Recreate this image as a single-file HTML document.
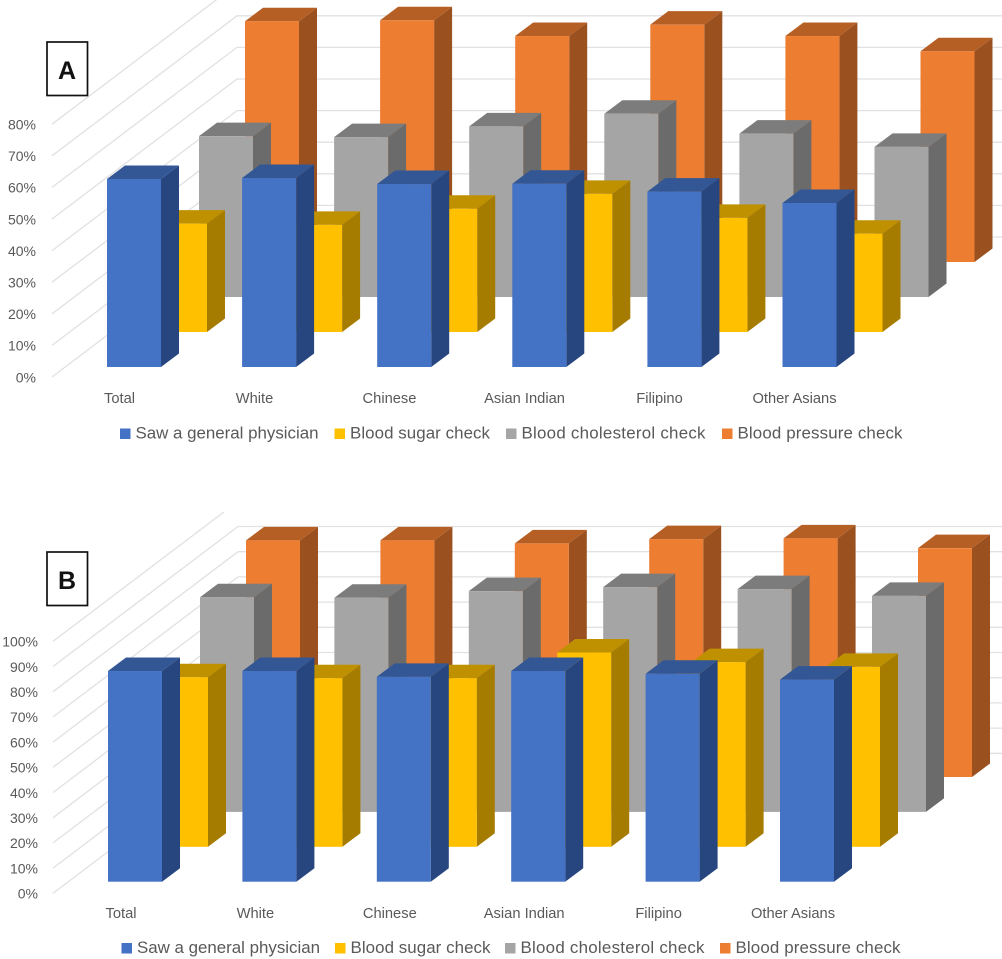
<!DOCTYPE html>
<html lang="en">
<head>
<meta charset="utf-8">
<title>Health checks by ethnic group, panels A and B</title>
<style>
  html, body { margin: 0; padding: 0; background: #ffffff; }
  #stage { display: block; width: 1002px; height: 959px; }
  text { font-family: "Liberation Sans", sans-serif; fill: #595959; }
</style>
</head>
<body>
<svg id="stage" xmlns="http://www.w3.org/2000/svg" width="1002" height="959" viewBox="0 0 1002 959">
  <rect x="0" y="0" width="1002" height="959" fill="#ffffff"/>
</svg>
<script>
// ---------- Data ----------
const categories = ["Total", "White", "Chinese", "Asian Indian", "Filipino", "Other Asians"];
const seriesNames = ["Saw a general physician", "Blood sugar check", "Blood cholesterol check", "Blood pressure check"];

const ticksA = ["0%", "10%", "20%", "30%", "40%", "50%", "60%", "70%", "80%"];
const physicianA = [59.5, 59.8, 57.9, 58.0, 55.5, 51.9];
const sugarA = [34.3, 33.9, 39.0, 43.7, 36.1, 31.1];
const cholesterolA = [50.9, 50.6, 54.0, 58.0, 51.7, 47.5];
const pressureA = [76.2, 76.5, 71.5, 75.1, 71.5, 66.7];

const ticksB = ["0%", "10%", "20%", "30%", "40%", "50%", "60%", "70%", "80%", "90%", "100%"];
const physicianB = [83.6, 83.6, 81.3, 83.6, 82.5, 80.2];
const sugarB = [67.3, 66.9, 66.9, 77.1, 73.3, 71.4];
const cholesterolB = [85.2, 85.0, 87.6, 89.2, 88.4, 85.7];
const pressureB = [93.9, 93.9, 92.7, 94.4, 94.7, 90.8];

// ---------- Styles ----------
const faceColors = [
  { front: "#4472C4", top: "#335694", side: "#274680" },
  { front: "#FFC000", top: "#BF9000", side: "#A67C00" },
  { front: "#A5A5A5", top: "#7C7C7C", side: "#6B6B6B" },
  { front: "#ED7D31", top: "#B65F25", side: "#9A511F" }
];
const legendTextWidths = [183, 140, 184, 165];
const NS = "http://www.w3.org/2000/svg";
const stage = document.getElementById("stage");

function make(tag, attrs, parent) {
  const el = document.createElementNS(NS, tag);
  for (const k in attrs) el.setAttribute(k, attrs[k]);
  parent.appendChild(el);
  return el;
}

// ---------- Panel renderer ----------
function drawPanel(cfg) {
  const panel = make("g", {}, stage);
  
  

  const clipId = "clip-" + cfg.id;
  const defs = make("defs", {}, panel);
  const clip = make("clipPath", { id: clipId }, defs);
  make("rect", { x: 0, y: cfg.clipTop, width: 1002, height: 500 }, clip);

  // value scale: percent to pixel height
  const h = v => v * cfg.pxPerPct;
  const frontY = v => cfg.axisY0 - h(v);
  const backY = v => cfg.axisY0 - cfg.wallRise - h(v);
  const pct = t => parseFloat(t);

  // walls
  const wall = make("g", { "clip-path": "url(#" + clipId + ")" }, panel);
  
  
  cfg.ticks.forEach(t => {
    const v = pct(t);
    const line = make("polyline", {
      points: cfg.wallX0 + "," + frontY(v) + " " + cfg.wallX1 + "," + backY(v) + " 1010," + backY(v),
      fill: "none", stroke: "#E1E1E1", "stroke-width": 1.3
    }, wall);
    
    
  });

  // tick labels
  cfg.ticks.forEach(t => {
    const label = make("text", {
      x: cfg.tickX, y: frontY(pct(t)) + 5.3, "text-anchor": "end", "font-size": 14
    }, panel);
    label.textContent = t;
    
    
  });

  // bars: back row first, front row last
  for (let r = cfg.series.length - 1; r >= 0; r--) {
    const values = cfg.series[r];
    const colors = faceColors[r];
    const base = cfg.barBase - r * cfg.rowDy;
    values.forEach((val, i) => {
      const x0 = cfg.barX + r * cfg.rowDx + i * cfg.catStep;
      const x1 = x0 + cfg.barW;
      const top = base - h(val);
      const dx = cfg.depthX, dy = cfg.depthY;
      const bar = make("g", {}, panel);
      
      
      make("polygon", {
        points: x1 + "," + top + " " + (x1 + dx) + "," + (top - dy) + " " + (x1 + dx) + "," + (base - dy) + " " + x1 + "," + base,
        fill: colors.side
      }, bar);
      make("polygon", {
        points: x0 + "," + top + " " + (x0 + dx) + "," + (top - dy) + " " + (x1 + dx) + "," + (top - dy) + " " + x1 + "," + top,
        fill: colors.top
      }, bar);
      make("rect", { x: x0, y: top, width: cfg.barW, height: base - top, fill: colors.front }, bar);
    });
  }

  // category labels
  categories.forEach((c, i) => {
    const label = make("text", {
      x: cfg.catX + i * cfg.catLabelStep, y: cfg.catY, "text-anchor": "middle", "font-size": 14.7
    }, panel);
    label.textContent = c;
    
    
  });

  // legend
  seriesNames.forEach((name, r) => {
    const entry = make("g", {}, panel);
    
    
    make("rect", {
      x: cfg.legendX[r], y: cfg.legendY - 10, width: 10.5, height: 10.5, fill: faceColors[r].front
    }, entry);
    const label = make("text", {
      x: cfg.legendX[r] + 15.5, y: cfg.legendY, "font-size": 16.9, textLength: legendTextWidths[r]
    }, entry);
    label.textContent = name;
  });

  // panel badge
  const badge = make("g", {}, panel);
  
  
  make("rect", {
    x: 47, y: cfg.badgeY, width: 40.5, height: 53.5, fill: "#ffffff", stroke: "#111111", "stroke-width": 1.7
  }, badge);
  const letter = make("text", {
    x: 67, y: cfg.badgeY + 37, "text-anchor": "middle", "font-size": 25, "font-weight": "bold"
  }, badge);
  letter.style.fill = "#111111";
  letter.textContent = cfg.id.toUpperCase();
}

drawPanel({
  id: "a", ticks: ticksA,
  series: [physicianA, sugarA, cholesterolA, pressureA],
  axisY0: 377, pxPerPct: 3.16, wallRise: 140, wallX0: 52, wallX1: 237, clipTop: 0,
  tickX: 36,
  barX: 107, barBase: 367, barW: 54, catStep: 135.1, rowDx: 46, rowDy: 35, depthX: 18, depthY: 13.5,
  catX: 119.5, catLabelStep: 135, catY: 403,
  legendX: [120, 334.5, 506, 722], legendY: 438.5,
  badgeY: 42
});

drawPanel({
  id: "b", ticks: ticksB,
  series: [physicianB, sugarB, cholesterolB, pressureB],
  axisY0: 893.3, pxPerPct: 2.52, wallRise: 140, wallX0: 53, wallX1: 238, clipTop: 512,
  tickX: 38,
  barX: 108, barBase: 881.7, barW: 54, catStep: 134.4, rowDx: 46, rowDy: 34.9, depthX: 18, depthY: 13.5,
  catX: 121, catLabelStep: 134.4, catY: 918,
  legendX: [121.5, 335, 505, 720], legendY: 953,
  badgeY: 552
});
</script>
</body>
</html>
